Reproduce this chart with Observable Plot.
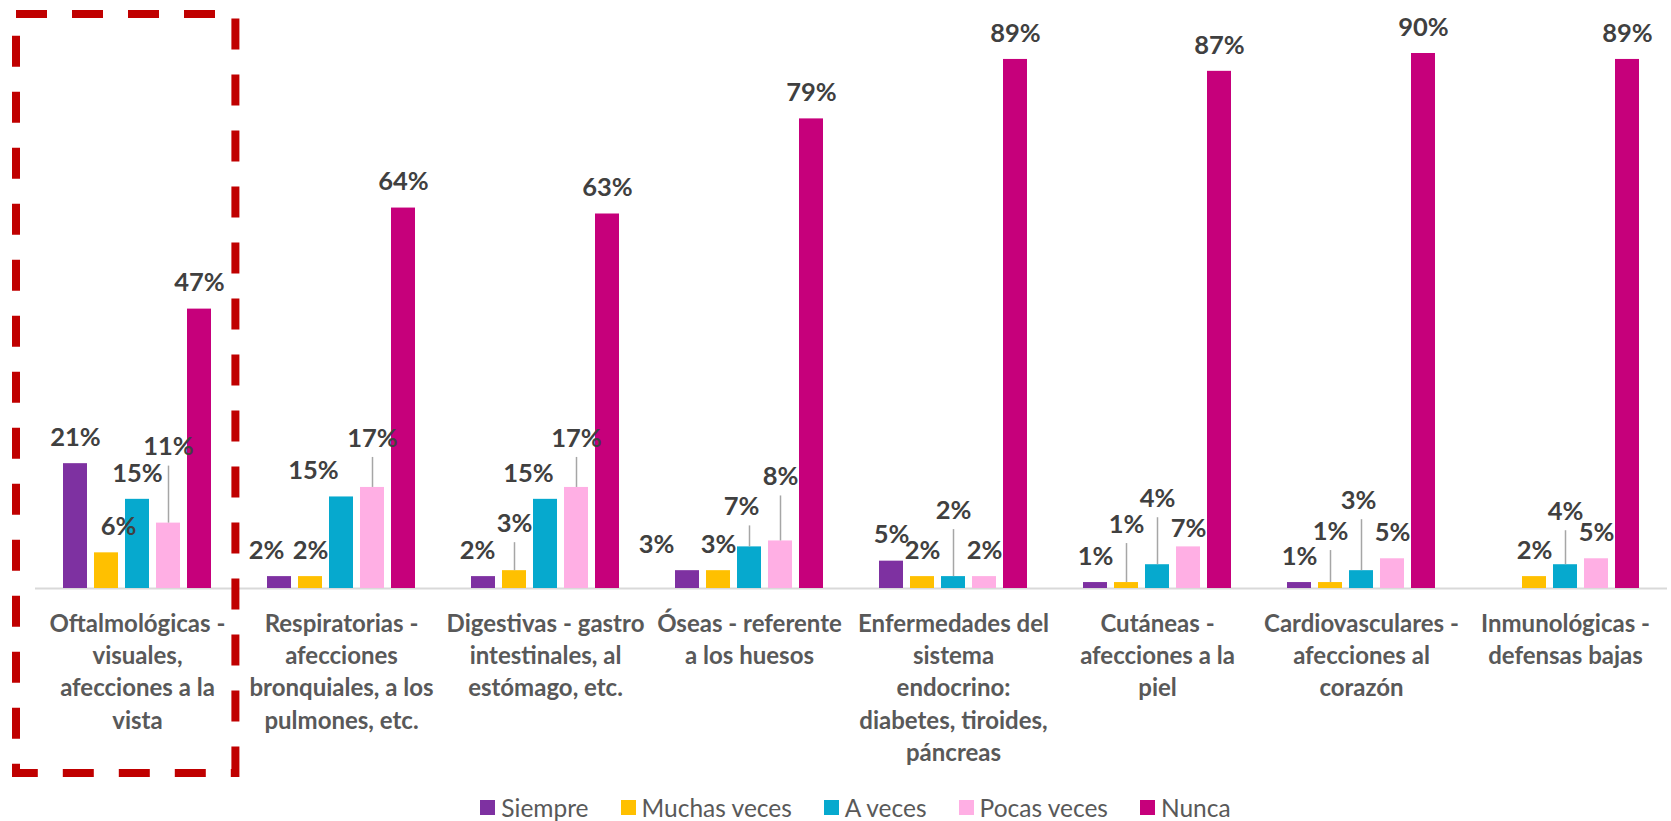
<!DOCTYPE html>
<html>
<head>
<meta charset="utf-8">
<script src="https://cdn.jsdelivr.net/npm/d3@7"></script>
<script src="https://cdn.jsdelivr.net/npm/@observablehq/plot@0.6"></script>
<style>
  html, body { margin: 0; padding: 0; background: #ffffff; }
  body { width: 1671px; height: 821px; overflow: hidden; font-family: Lato, "Open Sans", sans-serif; }
  #chart svg { display: block; }
  #legend { display: flex; justify-content: center; align-items: center; height: 44px; margin-left: 40px;
            font-family: Lato, sans-serif; font-size: 24.5px; color: #595959; }
  #legend .item { display: flex; align-items: center; margin: 0 16px; }
  #legend .sw { width: 15px; height: 15px; margin-right: 6px; }
</style>
</head>
<body>
<div id="chart"></div>
<div id="legend"></div>
<script>
// ---------- data ----------
const categories = [
  "Oftalmológicas", "Respiratorias", "Digestivas", "Óseas",
  "Enfermedades endocrino", "Cutáneas", "Cardiovasculares", "Inmunológicas"
];
const categoryLabels = [
  "Oftalmológicas -\nvisuales,\nafecciones a la\nvista",
  "Respiratorias -\nafecciones\nbronquiales, a los\npulmones, etc.",
  "Digestivas - gastro\nintestinales, al\nestómago, etc.",
  "Óseas - referente\na los huesos",
  "Enfermedades del\nsistema\nendocrino:\ndiabetes, tiroides,\npáncreas",
  "Cutáneas -\nafecciones a la\npiel",
  "Cardiovasculares -\nafecciones al\ncorazón",
  "Inmunológicas -\ndefensas bajas"
];
const series = ["Siempre", "Muchas veces", "A veces", "Pocas veces", "Nunca"];
const siempre     = [21, 2,    2,  3, 4.6, 1, 1, 0];
const muchasVeces = [ 6, 2,    3,  3, 2,   1, 1, 2];
const aVeces      = [15, 15.4, 15, 7, 2,   4, 3, 4];
const pocasVeces  = [11, 17,   17, 8, 2,   7, 5, 5];
const nunca       = [47, 64,   63, 79, 89, 87, 90, 89];
const seriesColors = ["#7E31A1", "#FFC000", "#06A9CE", "#FFAFE4", "#C6007B"];

// ---------- label layout (manual callout placement as in the original) ----------
const labelTweaks = {
  "0|Muchas veces": {dx: 12},
  "0|Pocas veces": {lift: 50},
  "1|Siempre": {dx: -13},
  "1|A veces": {dx: -28},
  "1|Pocas veces": {lift: 23},
  "2|Siempre": {dx: -6},
  "2|Muchas veces": {lift: 21},
  "2|A veces": {dx: -17},
  "2|Pocas veces": {lift: 23},
  "3|Siempre": {dx: -31},
  "3|A veces": {dx: -8, lift: 14},
  "3|Pocas veces": {lift: 38},
  "4|A veces": {lift: 40},
  "5|Muchas veces": {lift: 32},
  "5|A veces": {lift: 40},
  "5|Pocas veces": {lift: -8},
  "6|Muchas veces": {lift: 25},
  "6|A veces": {dx: -3, lift: 44},
  "7|A veces": {lift: 27}
};

// ---------- build table ----------
const seriesValues = [siempre, muchasVeces, aVeces, pocasVeces, nunca];
const rows = [];
categories.forEach((cat, i) => {
  series.forEach((s, j) => {
    const key = i + "|" + s;
    rows.push({cat, series: s, value: seriesValues[j][i], key, tweak: labelTweaks[key]});
  });
});
const catRows = categories.map((cat, i) => ({cat, label: categoryLabels[i]}));
const fmt = d => Math.round(d.value) + "%";

const labelFont = {fontSize: 25.5, fontWeight: 700, fill: "#404040", fontFamily: "Lato"};
const baseGap = 26;

const marks = [
  Plot.ruleY([0], {stroke: "#D9D9D9", strokeWidth: 2}),
  Plot.barY(rows, {fx: "cat", x: "series", y: "value", fill: "series"}),
  Plot.text(rows.filter(d => d.value > 0 && !d.tweak),
    {fx: "cat", x: "series", y: "value", text: fmt, dy: -baseGap, ...labelFont})
];
rows.filter(d => d.value > 0 && d.tweak).forEach(d => {
  const lift = d.tweak.lift || 0;
  const dx = d.tweak.dx || 0;
  if (lift >= 14) {
    marks.push(Plot.ruleX([d], {fx: "cat", x: "series", y1: "value", y2: "value",
      insetTop: -(lift + 7), stroke: "#A6A6A6", strokeWidth: 1.5}));
  }
  marks.push(Plot.text([d], {fx: "cat", x: "series", y: "value", text: fmt,
    dx, dy: -baseGap - lift, ...labelFont}));
});
marks.push(Plot.text(catRows, {fx: "cat", text: "label", frameAnchor: "bottom", lineAnchor: "top",
  dy: 20, fontSize: 24, fontWeight: 700, fill: "#595959", fontFamily: "Lato", lineHeight: 1.35}));
marks.push(Plot.rect([categories[0]], {fx: d => d, fill: "none", stroke: "#C00000", strokeWidth: 8,
  strokeDasharray: "31,25", insetLeft: -19, insetRight: 3.6, insetTop: -39, insetBottom: -185}));

const chart = Plot.plot({
  width: 1671,
  height: 785,
  marginLeft: 32,
  marginRight: 2,
  marginTop: 53,
  marginBottom: 197,
  style: {fontFamily: "Lato", background: "#ffffff", overflow: "visible"},
  fx: {domain: categories, paddingInner: 0, paddingOuter: 0, axis: null, label: null},
  x: {domain: series, paddingInner: 0.22, paddingOuter: 0.86, axis: null, label: null},
  y: {domain: [0, 90], axis: null, label: null},
  color: {domain: series, range: seriesColors},
  marks
});
document.getElementById("chart").appendChild(chart);

// ---------- legend ----------
const legend = document.getElementById("legend");
series.forEach((s, j) => {
  const item = document.createElement("div");
  item.className = "item";
  const sw = document.createElement("span");
  sw.className = "sw";
  sw.style.background = seriesColors[j];
  const t = document.createElement("span");
  t.textContent = s;
  item.appendChild(sw);
  item.appendChild(t);
  legend.appendChild(item);
});
</script>
</body>
</html>
